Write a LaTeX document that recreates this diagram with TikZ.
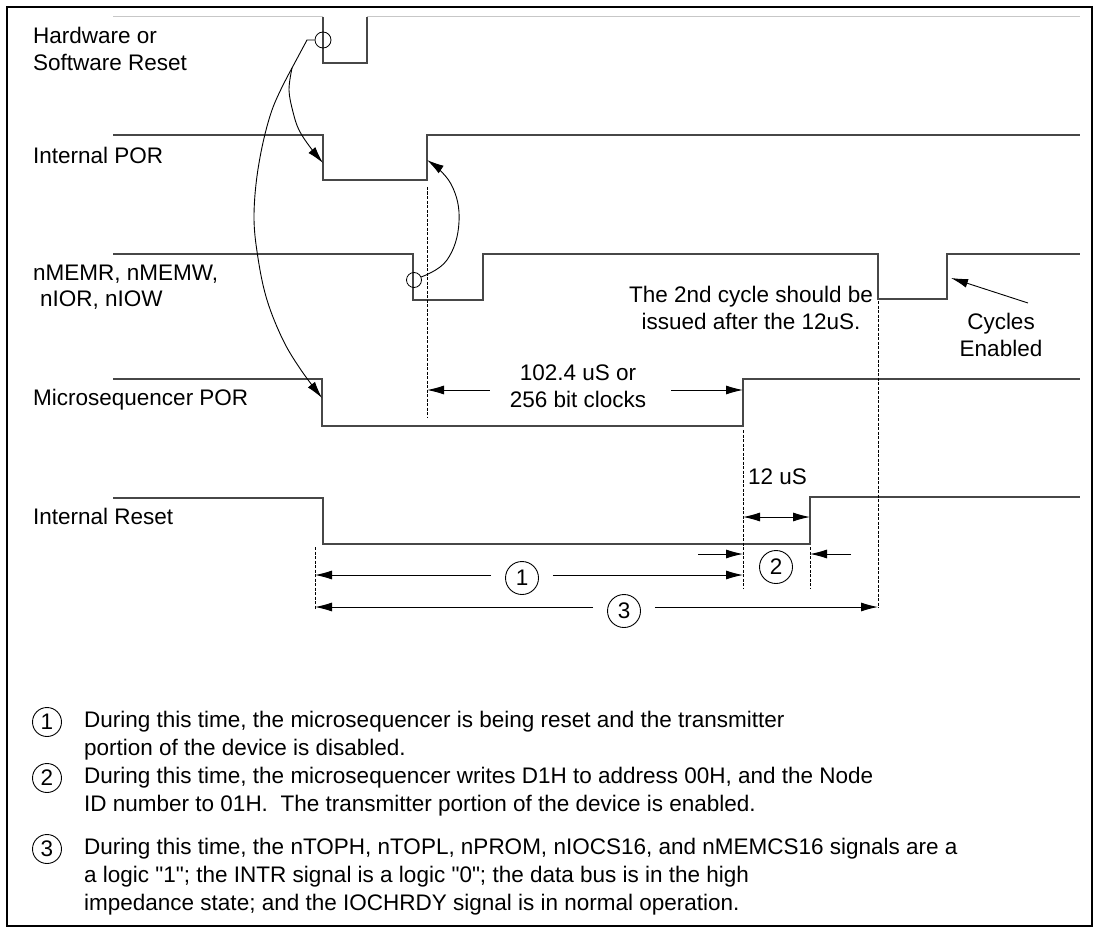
\documentclass[tikz,border=0pt]{standalone}
\usepackage{fontspec}
\setmainfont{Liberation Sans}
\newfontfamily\qfont{Liberation Sans}
\usetikzlibrary{arrows.meta}
\newcommand{\qq}{{\qfont"}}
\begin{document}
\begin{tikzpicture}[x=1pt,y=-1pt,
  sig/.style={line width=1.3pt, draw=black!72},
  faint/.style={line width=1pt, draw=black!22},
  conn/.style={line width=0.9pt, draw=black},
  tip/.style={-{Latex[length=17pt,width=9pt]}},
  arr/.style={conn, tip},
  dsh/.style={line width=0.7pt, draw=black, dash pattern=on 3pt off 1.5pt},
  lbl/.style={font=\fontsize{22.5}{27}\selectfont, inner sep=0pt},
  note/.style={font=\fontsize{22.5}{28}\selectfont, inner sep=0pt, align=left, anchor=west},
  num/.style={circle, draw, line width=0.9pt, minimum size=33pt, inner sep=0pt, font=\fontsize{22.5}{27}\selectfont},
  nnum/.style={circle, draw, line width=0.9pt, minimum size=29pt, inner sep=0pt, font=\fontsize{22.5}{27}\selectfont},
  ring/.style={circle, draw, line width=0.8pt, minimum size=16pt, inner sep=0pt}
]
\useasboundingbox (0,0) rectangle (1094,928);
\draw[line width=2.5pt] (7,7) rectangle (1092,926);

% ---------- signals ----------
\draw[faint] (113,17) -- (323,17);
\draw[faint] (367,17) -- (1080,17);
\draw[sig] (323,17) -- (323,63) -- (367,63) -- (367,17);
\draw[sig] (113,135) -- (323,135) -- (323,180) -- (427,180) -- (427,135) -- (1080,135);
\draw[sig] (113,254) -- (413,254) -- (413,300) -- (483,300) -- (483,254) -- (878,254) -- (878,299) -- (947,299) -- (947,254) -- (1080,254);
\draw[sig] (113,379) -- (322,379) -- (322,426) -- (743,426) -- (743,379) -- (1080,379);
\draw[sig] (113,498) -- (323,498) -- (323,544) -- (810,544) -- (810,497) -- (1080,497);

% ---------- signal labels ----------
\node[lbl, anchor=west, align=left] (hw) at (33,49) {Hardware or\\Software Reset};
\node[lbl, anchor=west] (ipor) at (33,155) {Internal POR};
\node[lbl, anchor=west] (mem1) at (33,274) {nMEMR, nMEMW,};
\node[lbl, anchor=west] (mem2) at (40,300) {nIOR, nIOW};
\node[lbl, anchor=west] (mpor) at (33,400) {Microsequencer POR};
\node[lbl, anchor=west] (irst) at (33,516) {Internal Reset};

% ---------- dashed guides ----------
\draw[dsh] (427,187) -- (427,418);
\draw[dsh] (743,430) -- (743,588);
\draw[dsh] (810,547) -- (810,588);
\draw[dsh] (878,301) -- (878,608);
\draw[dsh] (315,547) -- (315,610);

% ---------- 102.4 uS ----------
\coordinate (a1) at (427,390);
\coordinate (a2) at (743,390);
\node[lbl, align=center] (t102) at (578,386) {102.4 uS or\\256 bit clocks};
\draw[arr] (t102.west |- a1) ++(-20,0) -- (a1);
\draw[arr] (t102.east |- a2) ++(25,0) -- (a2);

% ---------- 12 uS ----------
\node[lbl, anchor=west] (t12) at (748,477) {12 uS};
\coordinate (b1) at (743,517);
\coordinate (b2) at (810,517);
\draw[conn, {Latex[length=17pt,width=9pt]}-{Latex[length=17pt,width=9pt]}] (b1) -- (b2);

% ---------- interval 2 ----------
\node[num] (c2) at (776,567) {2};
\coordinate (c2l) at (743,554);
\coordinate (c2r) at (810,554);
\draw[arr] (698,554) -- (c2l);
\draw[arr] (851,554) -- (c2r);

% ---------- interval 1 ----------
\node[num] (c1) at (522,578) {1};
\coordinate (c1l) at (315,575);
\coordinate (c1r) at (743,575);
\draw[arr] (c1.west |- c1l) ++(-14,0) -- (c1l);
\draw[arr] (c1.east |- c1r) ++(14,0) -- (c1r);

% ---------- interval 3 ----------
\node[num] (c3) at (624,611) {3};
\coordinate (c3l) at (315,607);
\coordinate (c3r) at (878,607);
\draw[arr] (c3.west |- c3l) ++(-14,0) -- (c3l);
\draw[arr] (c3.east |- c3r) ++(14,0) -- (c3r);

% ---------- texts right ----------
\node[lbl, align=center] (t2nd) at (751,308) {The 2nd cycle should be\\issued after the 12uS.};
\node[lbl, align=center] (tcyc) at (1001,335) {Cycles\\Enabled};
\coordinate (cyctip) at (951,278);
\draw[arr] (1028,303) -- (cyctip);

% ---------- causal curves ----------
\node[ring] (rr) at (323,40) {};
\coordinate (split) at (292,68);
\draw[conn] (rr.west) -- (307,40) -- (split);
\coordinate (porfall) at (323,163);
\coordinate (mporfall) at (322,398);
\draw[arr] plot[smooth, tension=0.6] coordinates {(292,68) (272,110) (259,163) (254,215) (258,258) (267,300) (283,340) (301,370) (322,398)};
\draw[arr] plot[smooth, tension=0.6] coordinates {(292,68) (289,90) (293,112) (299,130) (310,147) (323,163)};
\node[ring, minimum size=15pt] (mr) at (414,280) {};
\draw[arr] plot[smooth, tension=0.7] coordinates {(421,277) (447,260) (459,222) (451,184) (427,160)};

% ---------- notes ----------
\node[nnum] (n1) at (47,722) {1};
\node[note] (nt1) at (84,736) {During this time, the microsequencer is being reset and the transmitter\\portion of the device is disabled.};
\node[nnum] (n2) at (47,778) {2};
\node[note] (nt2) at (84,792) {During this time, the microsequencer writes D1H to address 00H, and the Node\\ID number to 01H.\ \ The transmitter portion of the device is enabled.};
\node[nnum] (n3) at (47,849) {3};
\node[note] (nt3) at (84,877) {During this time, the nTOPH, nTOPL, nPROM, nIOCS16, and nMEMCS16 signals are a\\a logic \qq1\qq; the INTR signal is a logic \qq0\qq; the data bus is in the high\\impedance state; and the IOCHRDY signal is in normal operation.};
\end{tikzpicture}
\end{document}
